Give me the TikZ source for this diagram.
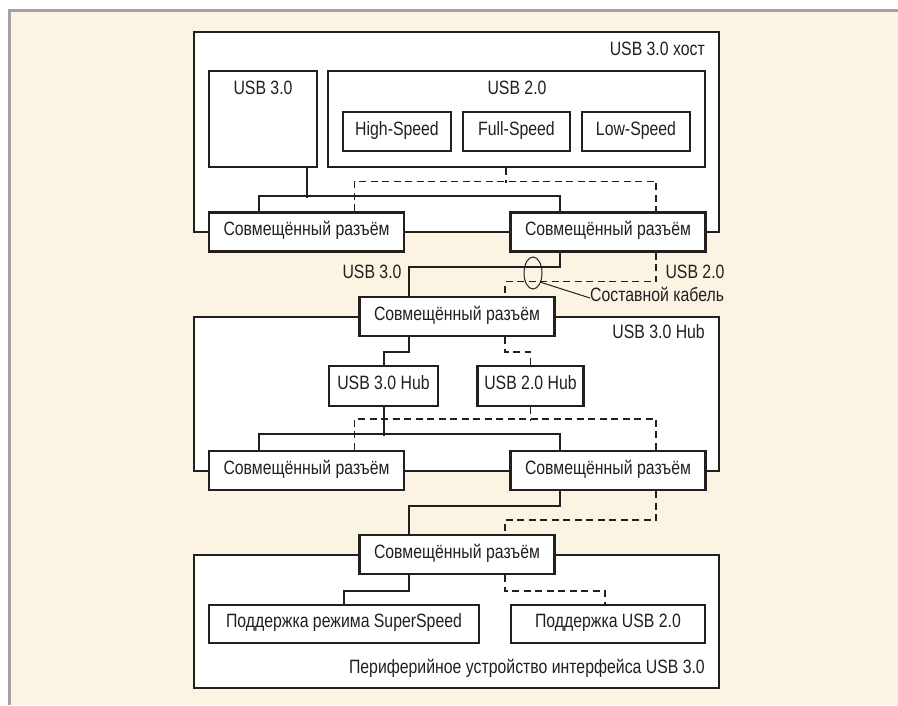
\documentclass[tikz,border=0pt]{standalone}
\usepackage{fontspec}
\setmainfont{Liberation Sans}[FakeStretch=0.82]
\usetikzlibrary{shapes.geometric}
\definecolor{cream}{RGB}{252,244,227}
\definecolor{frame}{RGB}{163,163,163}
\definecolor{ink}{RGB}{35,31,32}
\begin{document}
\begin{tikzpicture}[x=1pt,y=-1pt,
  font=\fontsize{19.3}{22}\selectfont, text=ink,
  outer/.style={draw=ink, line width=2.3pt, fill=white, inner sep=0pt, minimum width=525pt},
  box/.style={draw=ink, line width=2.3pt, fill=white, inner sep=0pt, text height=0.72em, text depth=0pt},
  conn/.style={box, minimum width=195pt, minimum height=39pt},
  lbl/.style={inner sep=0pt, text height=0.72em, text depth=0pt},
  wire/.style={draw=ink, line width=2pt},
  dwire/.style={draw=ink, line width=1.6pt, dash pattern=on 7pt off 4.5pt},
  thinline/.style={draw=ink, line width=1pt}]
\useasboundingbox (0,0) rectangle (898,705);
\fill[white] (0,0) rectangle (898,705);
\fill[cream] (11,11.5) rectangle (898,705);
\draw[frame, line width=2.7pt] (9.7,705) -- (9.7,10.3) -- (898,10.3);

% outer boxes
\node[outer, minimum height=200pt] (host) at (456.5,132) {};
\node[outer, minimum height=154pt] (hub) at (456.5,394) {};
\node[outer, minimum height=133pt] (dev) at (456.5,621.5) {};
\node[lbl, anchor=east] (hostt) at (705,52) {USB 3.0 хост};
\node[lbl, anchor=east] (hubt) at (705,335) {USB 3.0 Hub};
\node[lbl, anchor=east] (devt) at (705,670) {Периферийное устройство интерфейса USB 3.0};

% host internals
\node[box, minimum width=108pt, minimum height=96pt] (u3) at (263,119) {};
\node[lbl] (u3t) at (263,91) {USB 3.0};
\node[box, minimum width=377pt, minimum height=96pt] (u2) at (516.5,119) {};
\node[lbl] (u2t) at (517,91) {USB 2.0};
\node[box, minimum width=108pt, minimum height=39pt] (hs) at (397,131.5) {High-Speed};
\node[box, minimum width=107pt, minimum height=39pt] (fs) at (516.5,131.5) {Full-Speed};
\node[box, minimum width=108pt, minimum height=39pt] (lsp) at (636,131.5) {Low-Speed};

% hub internals
\node[box, minimum width=109pt, minimum height=40pt] (h3) at (383.5,386) {USB 3.0 Hub};
\node[box, minimum width=106pt, minimum height=40pt] (h2) at (530.5,386) {USB 2.0 Hub};

% device internals
\node[box, minimum width=270pt, minimum height=38pt] (ss) at (344,624) {Поддержка режима SuperSpeed};
\node[box, minimum width=194pt, minimum height=38pt] (s2) at (608,624) {Поддержка USB 2.0};

% connectors
\node[conn] (hc1) at (306.5,232) {Совмещённый разъём};
\node[conn] (hc2) at (608,232) {Совмещённый разъём};
\node[conn] (hubc) at (457,316.5) {Совмещённый разъём};
\node[conn] (hl) at (306.5,470.5) {Совмещённый разъём};
\node[conn] (hr) at (608,470.5) {Совмещённый разъём};
\node[conn] (dc) at (457,554.5) {Совмещённый разъём};

% host wiring
\draw[wire] ([xshift=44pt]u3.south) -- ++(0,30);
\draw[wire] ([xshift=-48pt]hc1.north) -- ++(0,-15) -| ([xshift=-48pt]hc2.north);
\draw[dwire] ([xshift=-10.5pt]u2.south) -- ++(0,15);
\draw[dwire] ([xshift=48pt]hc1.north) -- ++(0,-30) -| ([xshift=48pt]hc2.north);

% cable host -> hub
\draw[wire] ([xshift=-48pt]hc2.south) -- ++(0,14) -| ([xshift=-48pt]hubc.north);
\draw[dwire] ([xshift=48pt]hc2.south) -- ++(0,29) -| ([xshift=48pt]hubc.north);
\node[lbl] (c3) at (372,275) {USB 3.0};
\node[lbl] (c2) at (695,275) {USB 2.0};
\node[draw=ink, line width=1pt, ellipse, minimum width=18pt, minimum height=32pt, inner sep=0pt] (cab) at (533,273) {};
\node[lbl, anchor=west] (cabt) at (590,298) {Составной кабель};
\draw[thinline] (cab.-50) -- (cabt.west);

% hub wiring
\draw[wire] ([xshift=-48pt]hubc.south) -- ++(0,15) -| (h3.north);
\draw[dwire] ([xshift=48pt]hubc.south) -- ++(0,15) -| (h2.north);
\draw[wire] (h3.south) -- ++(0,29);
\draw[wire] ([xshift=-48pt]hl.north) -- ++(0,-16) -| ([xshift=-48pt]hr.north);
\draw[dwire] (h2.south) -- ++(0,14);
\draw[dwire] ([xshift=48pt]hl.north) -- ++(0,-31) -| ([xshift=48pt]hr.north);

% cable hub -> device
\draw[wire] ([xshift=-48pt]hr.south) -- ++(0,15) -| ([xshift=-48pt]dc.north);
\draw[dwire] ([xshift=48pt]hr.south) -- ++(0,29) -| ([xshift=48pt]dc.north);

% device wiring
\draw[wire] ([xshift=-48pt]dc.south) -- ++(0,16) -| (ss.north);
\draw[dwire] ([xshift=48pt]dc.south) -- ++(0,16) -| ([xshift=-3pt]s2.north);
\end{tikzpicture}
\end{document}
